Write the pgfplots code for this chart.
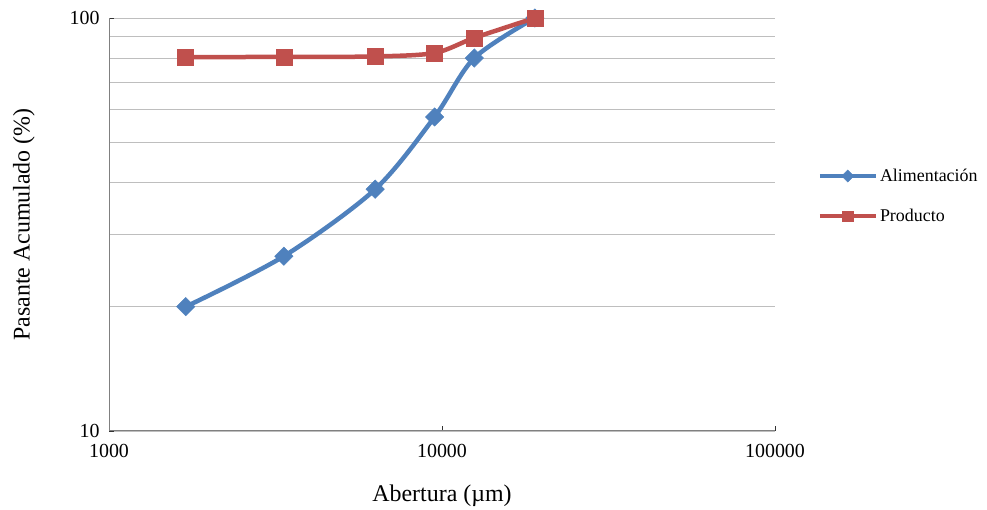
\documentclass[border=0pt]{standalone}
\usepackage{pgfplots}
\pgfplotsset{compat=1.18}
\usepackage{fontspec}
\setmainfont{Liberation Serif}

\definecolor{alim}{RGB}{79,129,189}
\definecolor{prod}{RGB}{192,80,77}
\definecolor{gridgray}{RGB}{190,190,190}
\definecolor{axgray}{RGB}{128,128,128}

\begin{document}
\begin{tikzpicture}
\useasboundingbox (-109bp,-79bp) rectangle (878bp,431bp);
\begin{loglogaxis}[
    at={(0,0)}, anchor=south west,
    scale only axis,
    width=666bp, height=413bp,
    xmin=1000, xmax=100000,
    ymin=10, ymax=100,
    axis lines*=left,
    axis line style={axgray, line width=1pt},
    xtick={1000,10000,100000},
    xticklabels={1000,10000,100000},
    ytick={10,100},
    yticklabels={10,100},
    xminorticks=false,
    ymajorgrids, yminorgrids,
    major grid style={gridgray, line width=0.8pt},
    minor grid style={gridgray, line width=0.8pt},
    minor tick length=0pt,
    major tick length=5bp,
    tick align=inside,
    tick style={black!80, line width=0.8pt},
    ticklabel style={font=\fontsize{20}{23}\selectfont},
    xticklabel style={yshift=-10bp},
    yticklabel style={xshift=-6bp},
    /pgf/number format/assume math mode=true,
    xlabel={Abertura (µm)},
    ylabel={Pasante Acumulado (\%)},
    label style={font=\fontsize{24}{27}\selectfont},
    xlabel style={yshift=-20bp},
    ylabel style={yshift=28bp},
    clip=false,
    legend cell align=left,
    legend style={at={(1.059,0.569)}, anchor=west, draw=none, fill=none,
        font=\fontsize{18}{21}\selectfont, row sep=22bp,
        /tikz/every even column/.append style={column sep=1bp}},
    legend image code/.code={
        \draw[mark repeat=2, mark phase=2, #1, every mark/.append style={scale=0.65}]
            plot coordinates {(0bp,0bp) (28bp,0bp) (56bp,0bp)};
    },
]
\addplot[alim, line width=4.5bp, smooth, mark=square*,
    mark options={rotate=45, mark size=6.5bp, line width=0.5bp, fill=alim, draw=alim}]
    coordinates {(1700,20) (3350,26.5) (6300,38.5) (9500,57.6) (12500,80) (19000,100)};
\addlegendentry{Alimentación}
\addplot[prod, line width=4.5bp, smooth, mark=square*,
    mark options={mark size=8bp, line width=0.5bp, fill=prod, draw=prod}]
    coordinates {(1700,80.4) (3350,80.5) (6300,80.7) (9500,82.3) (12500,89.5) (19000,100)};
\addlegendentry{Producto}
\end{loglogaxis}
\end{tikzpicture}
\end{document}
